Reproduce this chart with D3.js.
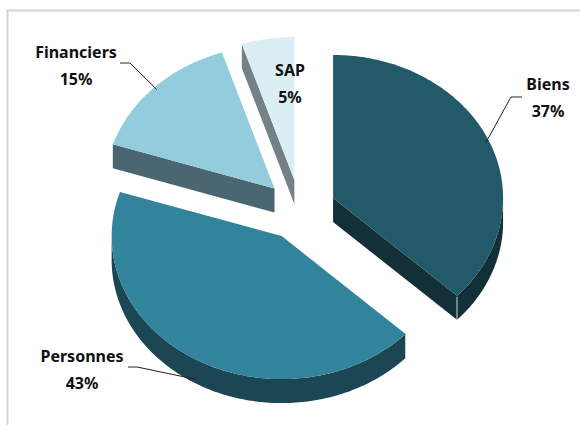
<!DOCTYPE html>
<html>
<head>
<meta charset="utf-8">
<script src="https://cdn.jsdelivr.net/npm/d3@7"></script>
<style>
  body { margin: 0; background: #fff; }
  svg { display: block; }
  text { font-family: "Noto Sans", "Open Sans", sans-serif; font-weight: bold; font-size: 16px; fill: #111; }
</style>
</head>
<body>
<svg id="chart" width="580" height="425"></svg>
<script>
// data
var categories = ["Biens", "Personnes", "Financiers", "SAP"];
var values = [37, 43, 15, 5];

// colours (top face, side face)
var topColors = ["#225a69", "#31849b", "#93cddd", "#dbeef3"];
var sideColors = ["#132f38", "#1b4653", "#4a6670", "#738286"];

// label layout: centre x, first baseline, leader start (near text)
var labelPos = [[548, 90], [82, 362], [76, 58], [290, 76]];
var leaderStart = [[522, 97], [128, 367], [120, 63], null];
var leaderKnee = [[511, 97], [137, 367], [130, 63], null];

var W = 580, H = 425;
var cx = 300, cy = 210, rx = 170, ry = 143, depth = 24, explode = 0.212;

var svg = d3.select("#chart");

// frame
svg.append("rect")
  .attr("x", 7.5).attr("y", 10.5)
  .attr("width", 700).attr("height", 600)
  .attr("fill", "none")
  .attr("stroke", "#d4d4d4")
  .attr("stroke-width", 2);

var pie = d3.pie().sort(null).value(function(d){ return d; });
var arcs = pie(values);
var total = d3.sum(values);

var line = d3.line();

function proj(a, r, o, z) {
  return [cx + o[0] + r * rx * Math.sin(a), cy + o[1] - r * ry * Math.cos(a) + (z || 0)];
}

function arcPts(a0, a1, o, z) {
  var n = Math.max(2, Math.ceil(Math.abs(a1 - a0) / (Math.PI / 180)));
  var pts = [];
  for (var i = 0; i <= n; i++) {
    pts.push(proj(a0 + (a1 - a0) * i / n, 1, o, z));
  }
  return pts;
}

var slices = arcs.map(function(d, i){
  var mid = (d.startAngle + d.endAngle) / 2;
  var o = [explode * rx * Math.sin(mid), -explode * ry * Math.cos(mid)];
  return { d: d, i: i, mid: mid, o: o };
});

// back to front
var order = slices.slice().sort(function(a, b){ return a.o[1] - b.o[1]; });

var g = svg.append("g");

order.forEach(function(s){
  var d = s.d, o = s.o, i = s.i;
  var c0 = proj(0, 0, o), c1 = proj(0, 0, o, depth);
  var gs = g.append("g");

  // radial faces facing the viewer
  [[d.startAngle, -Math.PI / 2], [d.endAngle, Math.PI / 2]].forEach(function(e){
    var n = e[0] + e[1];
    if (Math.cos(n) < -0.01) {
      var p0 = proj(e[0], 1, o), p1 = proj(e[0], 1, o, depth);
      gs.append("path")
        .attr("d", line([c0, p0, p1, c1]) + "Z")
        .attr("fill", sideColors[i]);
    }
  });

  // outer curved wall (front half only)
  var a0 = Math.max(d.startAngle, Math.PI / 2), a1 = Math.min(d.endAngle, 3 * Math.PI / 2);
  if (a1 > a0) {
    var top = arcPts(a0, a1, o, 0), bot = arcPts(a1, a0, o, depth);
    gs.append("path")
      .attr("d", line(top.concat(bot)) + "Z")
      .attr("fill", sideColors[i]);
    // light edge where the wall meets a cut face
    [a0, a1].forEach(function(a){
      if (a === d.startAngle || a === d.endAngle) {
        var p = proj(a, 1, o), q = proj(a, 1, o, depth);
        gs.append("line")
          .attr("x1", p[0]).attr("y1", p[1] + 1)
          .attr("x2", q[0]).attr("y2", q[1])
          .attr("stroke", "#c9d6da").attr("stroke-width", 1);
      }
    });
  }

  // top face
  gs.append("path")
    .attr("d", line([c0].concat(arcPts(d.startAngle, d.endAngle, o, 0))) + "Z")
    .attr("fill", topColors[i]);
});

// labels + leaders
slices.forEach(function(s){
  var i = s.i;
  var lp = labelPos[i];
  var t = svg.append("text").attr("text-anchor", "middle");
  t.append("tspan").attr("x", lp[0]).attr("y", lp[1]).text(categories[i]);
  t.append("tspan").attr("x", lp[0]).attr("y", lp[1] + 27)
    .text(Math.round(values[i] / total * 100) + "%");

  if (leaderStart[i]) {
    var inFront = Math.cos(s.mid) < -0.3;
    var end = proj(s.mid, 0.98, s.o, inFront ? depth * 0.95 : 0);
    svg.append("path")
      .attr("d", line([leaderStart[i], leaderKnee[i], end]))
      .attr("fill", "none")
      .attr("stroke", "#222")
      .attr("stroke-width", 1);
  }
});
</script>
</body>
</html>
